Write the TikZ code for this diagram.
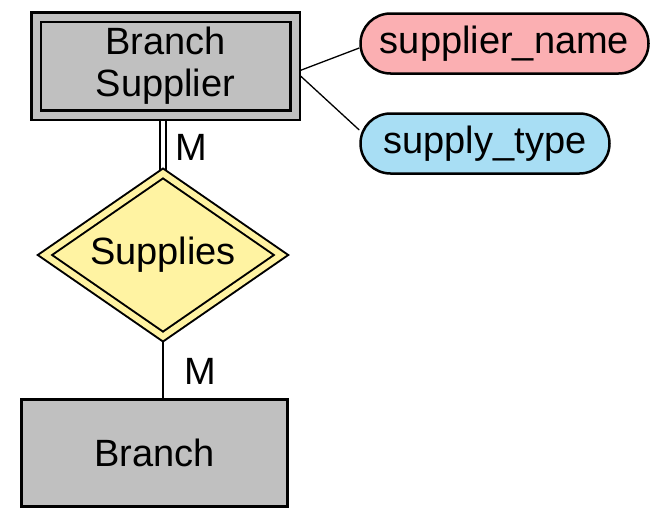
\documentclass[tikz,border=0pt]{standalone}
\usepackage{fontspec}
\setmainfont{Liberation Sans}
\usetikzlibrary{shapes.geometric,backgrounds}
\definecolor{entgray}{HTML}{C0C0C0}
\definecolor{relyellow}{HTML}{FFF3A2}
\definecolor{attpink}{HTML}{FBAFB2}
\definecolor{attblue}{HTML}{A8DEF4}
\tikzset{
  lbl/.style={font=\fontsize{38}{42}\selectfont},
  entity/.style={lbl, rectangle, draw=black, fill=entgray, line width=3pt, inner sep=0pt, align=center},
  weakentity/.style={entity, line width=2.4pt, double=entgray, double distance=7pt},
  weakrel/.style={lbl, diamond, aspect=1.45, draw=black, fill=relyellow, line width=2pt, double=relyellow, double distance=6pt, inner sep=0pt},
  attr/.style={lbl, rectangle, rounded corners=30pt, draw=black, line width=2.5pt, minimum height=60pt, inner sep=0pt},
  link/.style={line width=1.3pt},
  dlink/.style={line width=1.5pt, double=white, double distance=4.7pt}
}
\begin{document}
\begin{tikzpicture}[x=1pt,y=-1pt]
\useasboundingbox (0,0) rectangle (663,522);
\node[weakentity, minimum width=259pt, minimum height=98pt] (bsup) at (165.5,66) {Branch\\Supplier};
\node[weakrel, minimum width=237pt, minimum height=164pt] (supplies) at (163,255) {Supplies};
\node[entity, minimum width=266pt, minimum height=107pt] (branch) at (154.5,453) {Branch};
\node[attr, fill=attpink, minimum width=288pt] (sname) at (504.5,43.5) {supplier\_name};
\node[attr, fill=attblue, minimum width=249pt] (stype) at (485,143.5) {supply\_type};
\node[lbl] (m1) at (191,147) {M};
\node[lbl] (m2) at (200,371) {M};
\begin{scope}[on background layer]
\draw[dlink] (supplies.north |- bsup.south) -- (supplies.north);
\draw[link] (supplies.south) -- (supplies.south |- branch.north);
\draw[link] ([yshift=-6pt]bsup.east) -- ([yshift=-4.5pt]sname.west);
\draw[link] ([yshift=-6pt]bsup.east) -- ([yshift=13.5pt]stype.west);
\end{scope}
\end{tikzpicture}
\end{document}
